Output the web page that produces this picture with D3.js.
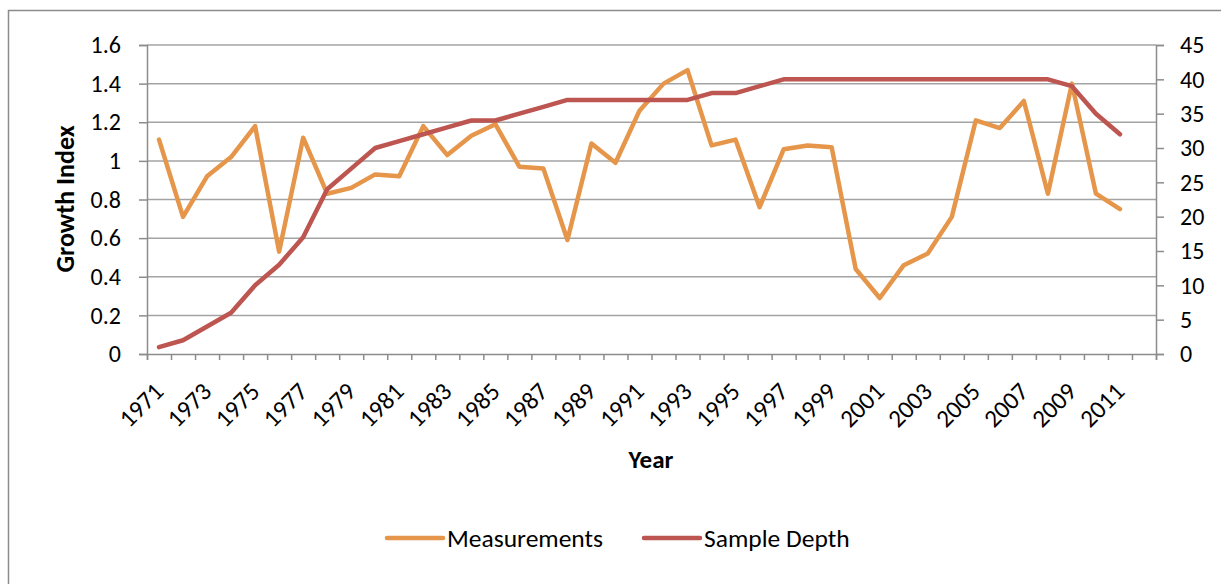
<!DOCTYPE html>
<html>
<head>
<meta charset="utf-8">
<script src="https://cdn.jsdelivr.net/npm/d3@7"></script>
<style>
  body { margin: 0; background: #fff; }
  svg { display: block; font-family: Calibri, Carlito, "Open Sans", sans-serif; }
</style>
</head>
<body>
<div id="chart"></div>
<script>
// categories (2012 is an empty slot on the axis)
var years = d3.range(1971, 2013)
var yearLabels = d3.range(1971, 2012, 2)

// growth index, 1971..2011
var measurements = [1.11, 0.71, 0.92, 1.02, 1.18, 0.53, 1.12, 0.83, 0.86, 0.93,
  0.92, 1.18, 1.03, 1.13, 1.19, 0.97, 0.96, 0.59, 1.09, 0.99,
  1.26, 1.40, 1.47, 1.08, 1.11, 0.76, 1.06, 1.08, 1.07, 0.44,
  0.29, 0.46, 0.52, 0.71, 1.21, 1.17, 1.31, 0.83, 1.40, 0.83, 0.75]

// number of samples, 1971..2011
var sampleDepth = [1, 2, 4, 6, 10, 13, 17, 24, 27, 30,
  31, 32, 33, 34, 34, 35, 36, 37, 37, 37,
  37, 37, 37, 38, 38, 39, 40, 40, 40, 40,
  40, 40, 40, 40, 40, 40, 40, 40, 39, 35, 32]

var leftTicks = [0, 0.2, 0.4, 0.6, 0.8, 1, 1.2, 1.4, 1.6]
var rightTicks = [0, 5, 10, 15, 20, 25, 30, 35, 40, 45]

var W = 1221, H = 584
var plot = {left: 147, right: 1156, top: 45, bottom: 354}

var svg = d3.select("#chart").append("svg")
  .attr("width", W).attr("height", H)

// outer chart border (runs off the right/bottom of the picture)
svg.append("rect")
  .attr("x", 8.5).attr("y", 10.5)
  .attr("width", 1240).attr("height", 600)
  .attr("fill", "#fff").attr("stroke", "#8c8c8c").attr("stroke-width", 1.5)

var x = d3.scaleBand().domain(years).range([plot.left, plot.right])
var xEdge = d3.scaleLinear().domain([0, years.length]).range([plot.left, plot.right])
var yL = d3.scaleLinear().domain([0, 1.6]).range([plot.bottom, plot.top])
var yR = d3.scaleLinear().domain([0, 45]).range([plot.bottom, plot.top])

function cx(d, i) { return x(years[i]) + x.bandwidth() / 2 }

// gridlines
svg.append("g")
  .selectAll("line").data(leftTicks.slice(1)).enter().append("line")
  .attr("x1", plot.left).attr("x2", plot.right)
  .attr("y1", function(d) { return yL(d) }).attr("y2", function(d) { return yL(d) })
  .attr("stroke", "#a3a3a3").attr("stroke-width", 1.5)

// left axis
var gL = svg.append("g")
  .attr("transform", "translate(" + plot.left + ",0)")
  .call(d3.axisLeft(yL).tickValues(leftTicks).tickSize(8).tickPadding(18)
    .tickFormat(function(d) { return String(d) }))
gL.attr("font-family", null).attr("font-size", null)
gL.selectAll("text").attr("font-size", 24).attr("fill", "#000")
gL.selectAll("line, path").attr("stroke", "#8c8c8c").attr("stroke-width", 1.5)

// right axis
var gR = svg.append("g")
  .attr("transform", "translate(" + plot.right + ",0)")
  .call(d3.axisRight(yR).tickValues(rightTicks).tickSize(8).tickPadding(16))
gR.attr("font-family", null).attr("font-size", null)
gR.selectAll("text").attr("font-size", 24).attr("fill", "#000")
gR.selectAll("line, path").attr("stroke", "#8c8c8c").attr("stroke-width", 1.5)

// bottom axis: tick marks between categories
var gB = svg.append("g")
  .attr("transform", "translate(0," + plot.bottom + ")")
  .call(d3.axisBottom(xEdge).tickValues(d3.range(0, years.length + 1)).tickSize(6).tickFormat(""))
gB.selectAll("line, path").attr("stroke", "#8c8c8c").attr("stroke-width", 1.5)

// year labels, every other one, slanted
svg.append("g")
  .selectAll("text").data(yearLabels).enter().append("text")
  .attr("transform", function(d) {
    return "translate(" + (x(d) + x.bandwidth() / 2 + 6) + "," + (plot.bottom + 39) + ") rotate(-45)"
  })
  .attr("text-anchor", "end")
  .attr("font-size", 25).attr("fill", "#000")
  .text(function(d) { return d })

// axis titles
svg.append("text")
  .attr("transform", "translate(74," + 199 + ") rotate(-90)")
  .attr("text-anchor", "middle")
  .attr("font-size", 26).attr("font-weight", "bold").attr("fill", "#000")
  .text("Growth Index")

svg.append("text")
  .attr("x", 651).attr("y", 468)
  .attr("text-anchor", "middle")
  .attr("font-size", 25).attr("font-weight", "bold").attr("fill", "#000")
  .text("Year")

// series
var orange = "#e5964a", red = "#bd5550"

var lineM = d3.line().x(cx).y(function(d) { return yL(d) })
var lineD = d3.line().x(cx).y(function(d) { return yR(d) })

svg.append("path").datum(measurements)
  .attr("d", lineM).attr("fill", "none")
  .attr("stroke", orange).attr("stroke-width", 4.5)
  .attr("stroke-linejoin", "round").attr("stroke-linecap", "round")

svg.append("path").datum(sampleDepth)
  .attr("d", lineD).attr("fill", "none")
  .attr("stroke", red).attr("stroke-width", 4.5)
  .attr("stroke-linejoin", "round").attr("stroke-linecap", "round")

// legend
var legend = [
  {name: "Measurements", color: orange, x: 387},
  {name: "Sample Depth", color: red, x: 644}
]
var lg = svg.append("g").selectAll("g").data(legend).enter().append("g")
  .attr("transform", function(d) { return "translate(" + d.x + ",538)" })
lg.append("line")
  .attr("x1", 0).attr("x2", 56)
  .attr("stroke", function(d) { return d.color })
  .attr("stroke-width", 4.5).attr("stroke-linecap", "round")
lg.append("text")
  .attr("x", 60).attr("dy", "0.35em")
  .attr("font-size", 25.5).attr("fill", "#000")
  .text(function(d) { return d.name })
</script>
</body>
</html>
